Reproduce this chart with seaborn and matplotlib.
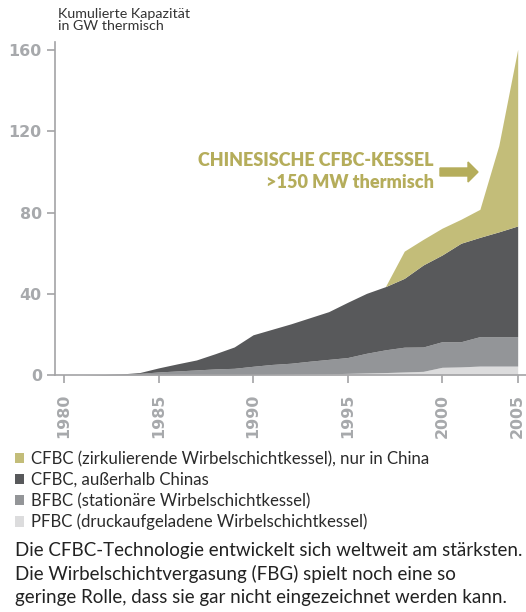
import matplotlib
matplotlib.use("Agg")
import matplotlib.pyplot as plt
import seaborn as sns
import numpy as np
from matplotlib.patches import Patch, FancyArrow
from matplotlib.transforms import IdentityTransform

# ---- data (GW thermal, cumulative, per technology layer) ----
years = [1980, 1981, 1982, 1983, 1984, 1985, 1986, 1987, 1988, 1989,
         1990, 1991, 1992, 1993, 1994, 1995, 1996, 1997, 1998, 1999,
         2000, 2001, 2002, 2003, 2005]
pfbc = [0, 0, 0, 0, 0, 0, 0, 0, 0, 0,
        0.2, 0.3, 0.4, 0.5, 0.6, 0.8, 1.0, 1.2, 1.5, 1.8,
        3.8, 4.0, 4.4, 4.4, 4.4]
bfbc = [0, 0, 0.1, 0.3, 0.8, 1.5, 2.0, 2.5, 3.0, 3.3,
        4.1, 4.9, 5.4, 6.3, 7.1, 7.8, 9.7, 11.2, 12.2, 12.0,
        12.6, 12.4, 14.5, 14.5, 14.5]
cfbc_world = [0, 0, 0.1, 0.2, 0.4, 2.0, 3.5, 4.9, 7.5, 10.5,
              15.5, 17.3, 19.4, 21.4, 23.5, 27.2, 29.5, 31.1, 33.9, 40.4,
              42.7, 48.5, 48.9, 51.6, 54.5]
cfbc_china = [0, 0, 0, 0, 0, 0, 0, 0, 0, 0,
              0, 0, 0, 0, 0, 0, 0, 0, 13.4, 12.6,
              13.2, 11.8, 13.8, 42.5, 87.0]
tick_years = [1980, 1985, 1990, 1995, 2000, 2005]
y_ticks = [0, 40, 80, 120, 160]
labels = ["PFBC (druckaufgeladene Wirbelschichtkessel)",
          "BFBC (stationäre Wirbelschichtkessel)",
          "CFBC, außerhalb Chinas",
          "CFBC (zirkulierende Wirbelschichtkessel), nur in China"]
colors = ["#dcdcdd", "#939598", "#58595b", "#c3bd79"]

sns.set_theme(style="white")
plt.rcParams["font.family"] = ["Lato", "DejaVu Sans"]

W, H = 526, 612
fig = plt.figure(figsize=(W / 100, H / 100), dpi=100)
ax = fig.add_axes([55 / W, (H - 375) / H, 1 - 55 / W, (375 - 42) / H])

xpos = np.arange(len(years))
ax.stackplot(xpos, pfbc, bfbc, cfbc_world, cfbc_china,
             colors=colors, labels=labels, linewidth=0)

ax.set_xlim(-0.48, len(years) - 1 + 0.44)
ax.set_ylim(0, 164)
sns.despine(ax=ax, top=True, right=True)
axis_col = "#a3a3a5"
for s in ["left", "bottom"]:
    ax.spines[s].set_color(axis_col)
    ax.spines[s].set_linewidth(1.2)

tick_font = dict(family="DejaVu Sans", weight="bold", size=11.4,
                 color="#a7a9ac")
ax.set_yticks(y_ticks)
ax.set_yticklabels([str(v) for v in y_ticks], fontdict=tick_font)
tpos = [years.index(y) for y in tick_years]
ax.set_xticks(tpos)
ax.set_xticklabels([str(y) for y in tick_years], rotation=90,
                   fontdict=tick_font)
ax.tick_params(axis="both", which="both", direction="out", length=5.5,
               width=1.2, color=axis_col)
ax.tick_params(axis="y", pad=4, left=True)
ax.tick_params(axis="x", pad=8, bottom=True)

# y axis title
fig.text(58 / W, 1 - 8 / H, "Kumulierte Kapazität\nin GW thermisch",
         ha="left", va="top", fontsize=10.3, color="#333333",
         linespacing=1.03)

# annotation
gold = "#b5ad5b"
fig.text(434 / W, 1 - 161 / H, "CHINESISCHE CFBC-KESSEL", ha="right",
         va="center", fontsize=13, fontweight="heavy", color=gold)
fig.text(434 / W, 1 - 182 / H, ">150 MW thermisch", ha="right",
         va="center", fontsize=13, fontweight="heavy", color=gold)
arrow = FancyArrow(440, H - 172, 38, 0, width=8, head_width=20,
                   head_length=10, length_includes_head=True,
                   color=gold, transform=IdentityTransform())
fig.patches.append(arrow)

# legend
handles = [Patch(facecolor=c, edgecolor="none") for c in colors][::-1]
fig.legend(handles, labels[::-1], loc="upper left",
           bbox_to_anchor=(15 / W, 1 - 451 / H), frameon=False,
           fontsize=12.1, handlelength=0.56, handleheight=0.56,
           handletextpad=0.38, labelspacing=0.29, borderaxespad=0,
           borderpad=0, labelcolor="#2b2b2b")

caption = ("Die CFBC-Technologie entwickelt sich weltweit am stärksten.\n"
           "Die Wirbelschichtvergasung (FBG) spielt noch eine so\n"
           "geringe Rolle, dass sie gar nicht eingezeichnet werden kann.")
fig.text(15 / W, 1 - 542 / H, caption, ha="left", va="top",
         fontsize=13.5, color="#222222", linespacing=1.40)

fig.savefig("out.png", dpi=100)
